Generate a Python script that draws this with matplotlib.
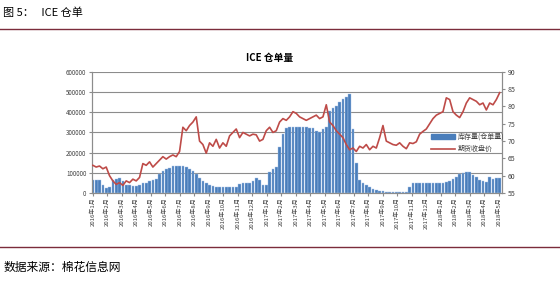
import matplotlib
matplotlib.use("Agg")
import matplotlib.pyplot as plt
from matplotlib.lines import Line2D

plt.rcParams['font.family'] = ['Noto Sans CJK SC', 'DejaVu Sans']

# month tick labels, Jan 2016 .. May 2018
months = [f"2016年{m}月" for m in range(1, 13)] + \
         [f"2017年{m}月" for m in range(1, 13)] + \
         [f"2018年{m}月" for m in range(1, 6)]

# weekly ICE certificated stock (bales)
stock = [
    64000, 64000, 62000, 40000, 25000, 30000, 64000, 70000, 74000, 59000,
    42000, 38000, 35000, 36000, 38000, 48000, 52000, 58000, 64000, 70000,
    95000, 108000, 118000, 126000, 132000, 135000, 134000, 133000, 128000, 120000,
    108000, 92000, 72000, 60000, 48000, 40000, 35000, 32000, 30000, 30000,
    30000, 29000, 30000, 32000, 45000, 50000, 50000, 52000, 58000, 74000,
    62000, 38000, 38000, 105000, 120000, 130000, 230000, 290000, 322000, 325000,
    325000, 326000, 325000, 326000, 325000, 324000, 322000, 305000, 300000, 318000,
    325000, 405000, 420000, 430000, 450000, 465000, 478000, 490000, 315000, 150000,
    65000, 50000, 40000, 28000, 22000, 15000, 12000, 8000, 5000, 4000,
    3000, 3000, 3000, 3000, 3000, 30000, 48000, 50000, 50000, 50000,
    50000, 50000, 50000, 50000, 50000, 52000, 55000, 60000, 68000, 80000,
    92000, 100000, 104000, 102000, 88000, 78000, 65000, 58000, 55000, 80000,
    70000, 72000, 75000,
]

# weekly futures close (cents/lb)
price = [
    63.0, 62.5, 62.8, 62.0, 62.5, 60.0, 58.5, 57.5, 58.0, 57.2,
    58.5, 58.0, 59.0, 58.5, 59.5, 63.5, 63.0, 64.0, 62.5, 63.5,
    64.5, 65.5, 64.8, 65.5, 66.0, 65.5, 67.0, 74.0, 73.0, 74.5,
    75.5, 77.0, 70.0, 69.0, 66.5, 69.5, 68.5, 70.5, 68.0, 69.5,
    68.5, 71.5, 72.5, 73.5, 71.0, 72.5, 72.0, 71.5, 72.0, 71.8,
    70.0, 70.5, 73.0, 74.0, 72.5, 73.0, 75.5, 76.5, 76.0, 77.0,
    78.5, 78.0, 77.0, 76.5, 76.0, 76.5, 77.0, 77.5, 76.5, 77.0,
    80.5, 75.5, 74.5, 73.0, 72.0, 71.0, 69.0, 67.5, 68.0, 67.0,
    68.5, 68.0, 69.0, 67.5, 68.5, 68.0, 71.0, 74.5, 70.0, 69.5,
    69.0, 68.8, 69.5, 68.5, 67.8, 69.5, 69.3, 69.8, 72.0, 72.8,
    73.5, 75.0, 76.5, 77.5, 78.0, 78.5, 82.5, 82.0, 78.5, 77.5,
    76.8, 78.5, 81.0, 82.5, 82.0, 81.5, 80.5, 81.0, 79.0, 81.0,
    80.5, 82.0, 84.0,
]

weeks_per_month = 52.18 / 12
x = [i / weeks_per_month for i in range(len(stock))]

fig = plt.figure(figsize=(5.6, 2.83), dpi=100)
ax = fig.add_axes([0.164, 0.318, 0.732, 0.428])
ax2 = ax.twinx()

ax.bar(x, stock, width=0.8 / weeks_per_month, color="#4a7ebb",
       edgecolor="#a9c4e8", linewidth=0.3, zorder=2)
ax2.plot(x, price, color="#be4b48", linewidth=1.2, zorder=3)

ax.set_ylim(0, 600000)
ax.set_yticks(range(0, 600001, 100000))
ax2.set_ylim(55, 90)
ax2.set_yticks(range(55, 91, 5))
ax.set_xlim(-0.07, 28.2)
ax.set_xticks(range(len(months)))
ax.set_xticklabels(months, rotation=90, fontsize=4.3, color="#404040")

ax.yaxis.grid(True, color="#8c8c8c", linewidth=0.8, zorder=0)
ax.set_axisbelow(True)
ax.tick_params(axis="y", labelsize=4.5, labelcolor="#404040", length=2,
               color="#8c8c8c", pad=2)
ax2.tick_params(axis="y", labelsize=5, labelcolor="#404040", length=2,
                color="#8c8c8c", pad=2)
ax.tick_params(axis="x", length=2, color="#8c8c8c", pad=1)
for a in (ax, ax2):
    a.spines["top"].set_visible(False)
    for s in ("left", "right", "bottom"):
        a.spines[s].set_color("#8c8c8c")
        a.spines[s].set_linewidth(0.8)

ax.set_zorder(1)
ax2.set_zorder(2)
ax.patch.set_visible(False)

handles = [plt.Rectangle((0, 0), 1, 1, color="#4a7ebb"),
           Line2D([0], [0], color="#be4b48", linewidth=1.2)]
ax2.legend(handles, ["库存量(仓单量)", "期货收盘价"], loc="upper left",
           bbox_to_anchor=(0.82, 0.52), frameon=False, fontsize=5,
           handlelength=3.5, handleheight=0.6, labelspacing=0.6,
           borderaxespad=0, handletextpad=0.4, labelcolor="#404040")

fig.text(0.482, 0.795, "ICE 仓单量", ha="center", va="center",
         fontsize=7, fontweight="bold")

fig.text(0.006, 0.955, "图 5：   ICE 仓单", fontsize=8, va="center")
fig.add_artist(Line2D([0, 1], [0.897, 0.897], color="#7b2c3b", linewidth=1.0))
fig.add_artist(Line2D([0, 1], [0.128, 0.128], color="#7b2c3b", linewidth=1.0))
fig.text(0.006, 0.055, "数据来源：棉花信息网", fontsize=8.5, va="center")

fig.savefig("out.png", dpi=100)
